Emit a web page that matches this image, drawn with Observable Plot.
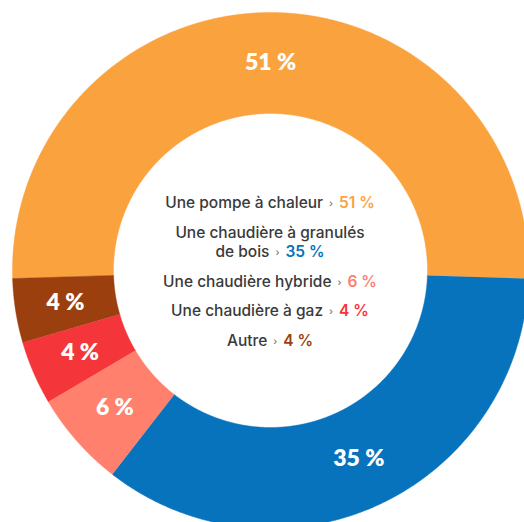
<!DOCTYPE html>
<html>
<head>
<meta charset="utf-8">
<script src="https://cdn.jsdelivr.net/npm/d3@7"></script>
<script src="https://cdn.jsdelivr.net/npm/@observablehq/plot@0.6"></script>
<style>
  html, body { margin: 0; padding: 0; background: #fff; }
  #wrap { position: relative; width: 524px; height: 522px; overflow: hidden; }
  #legend {
    position: absolute; left: 140px; top: 193px; width: 260px;
    text-align: center; font-family: Inter, "Noto Sans", sans-serif;
    font-size: 15.5px; line-height: 19.5px; color: #3a3a3a; font-weight: 500;
  }
  #legend .item { margin-bottom: 10px; }
  #legend .nw { white-space: nowrap; }
  #legend .chev { color: #777; font-size: 10px; line-height: 0; margin: 0 6px; position: relative; top: -1px; }
  #legend .pct { font-weight: 600; line-height: 0; }
</style>
</head>
<body>
<div id="wrap"></div>
<script>
const categories = ["Une pompe à chaleur", "Une chaudière à granulés de bois", "Une chaudière hybride", "Une chaudière à gaz", "Autre"];
const values = [51, 35, 6, 4, 4];
const colors = ["#FAA23E", "#0673BC", "#FF806C", "#F4363B", "#9B3F0E"];
const pctLabels = ["51 %", "35 %", "6 %", "4 %", "4 %"];

const R = 258, r = 157;
const total = d3.sum(values);
const start = -Math.PI * values[0] / total;
const pie = d3.pie().sort(null).startAngle(start).endAngle(start + 2 * Math.PI);
const arcs = pie(values);

const pts = [];
arcs.forEach((a, i) => {
  const n = Math.max(2, Math.ceil((a.endAngle - a.startAngle) / 0.005));
  for (let k = 0; k <= n; k++) {
    const t = a.startAngle + (a.endAngle - a.startAngle) * k / n;
    pts.push({cat: categories[i], x: R * Math.sin(t), y: R * Math.cos(t)});
  }
  for (let k = n; k >= 0; k--) {
    const t = a.startAngle + (a.endAngle - a.startAngle) * k / n;
    pts.push({cat: categories[i], x: r * Math.sin(t), y: r * Math.cos(t)});
  }
});
const labels = arcs.map((a, i) => {
  const m = (a.startAngle + a.endAngle) / 2, rm = (R + r) / 2;
  return {text: pctLabels[i], x: rm * Math.sin(m), y: rm * Math.cos(m)};
});

const chart = Plot.plot({
  width: 524, height: 522,
  margin: 0,
  x: {domain: [-270, 254], range: [0, 524], axis: null},
  y: {domain: [270, -252], range: [0, 522], axis: null},
  color: {domain: categories, range: colors},
  marks: [
    Plot.line(pts, {x: "x", y: "y", z: "cat", fill: "cat", stroke: "cat", strokeWidth: 0.5}),
    Plot.text(labels, {x: "x", y: "y", text: "text", fill: "white", fontSize: 23, fontWeight: 800,
      fontFamily: "Lato, sans-serif"})
  ]
});
document.getElementById("wrap").appendChild(chart);

const legend = document.createElement("div");
legend.id = "legend";
categories.forEach((c, i) => {
  const item = document.createElement("div");
  item.className = "item";
  const words = c.split(" ");
  // keep the last two words together with the value so wrapping matches the reference
  const keep = words.length > 4 ? 2 : 1;
  item.appendChild(document.createTextNode(words.slice(0, words.length - keep).join(" ") + (words.length > keep ? " " : "")));
  const tail = document.createElement("span");
  tail.className = "nw";
  tail.appendChild(document.createTextNode(words.slice(words.length - keep).join(" ")));
  const chev = document.createElement("span");
  chev.className = "chev"; chev.textContent = "›";
  tail.appendChild(chev);
  const p = document.createElement("span");
  p.className = "pct"; p.style.color = colors[i]; p.textContent = pctLabels[i];
  tail.appendChild(p);
  item.appendChild(tail);
  legend.appendChild(item);
});
document.getElementById("wrap").appendChild(legend);
</script>
</body>
</html>
